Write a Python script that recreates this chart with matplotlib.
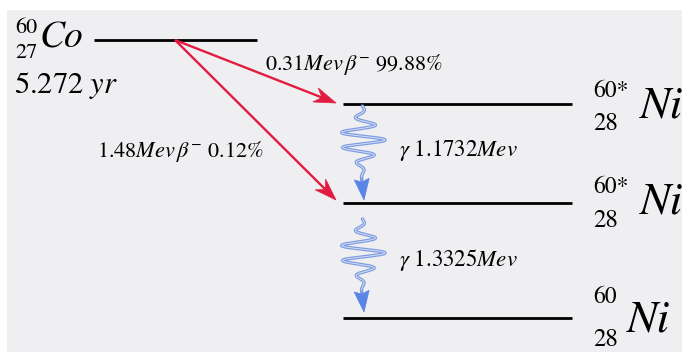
import numpy as np
import matplotlib
matplotlib.use("Agg")
import matplotlib.pyplot as plt
from matplotlib.patches import Rectangle, Polygon

plt.rcParams["font.family"] = ["STIXGeneral", "DejaVu Serif"]
plt.rcParams["mathtext.fontset"] = "stix"

# Decay data for Co-60
parent = "Co"
parent_A, parent_Z = "60", "27"
half_life_yr = 5.272
daughter = "Ni"
daughter_A = ["60*", "60*", "60"]
daughter_Z = "28"
beta_energy_mev = [0.31, 1.48]
beta_branch_pct = [99.88, 0.12]
gamma_energy_mev = [1.1732, 1.3325]

RED = "#e21c40"
BLUE_LINE = "#7b9be2"
BLUE_HEAD = "#5a85e6"

W, H = 689, 356
fig = plt.figure(figsize=(W / 100, H / 100), dpi=100, facecolor="white")
ax = fig.add_axes([0, 0, 1, 1])
ax.set_xlim(0, W)
ax.set_ylim(H, 0)
ax.axis("off")

ax.add_patch(Rectangle((7, 10), 675, 342, facecolor="#efeef0", edgecolor="none", zorder=0))


def arrow(p0, p1, color, lw, head_color=None, length=20, half_w=7, notch=6, z=4):
    """Straight shaft from p0 to p1 with a notched, filled head at p1."""
    head_color = head_color or color
    p0, p1 = np.asarray(p0, float), np.asarray(p1, float)
    u = (p1 - p0) / np.hypot(*(p1 - p0))
    n = np.array([-u[1], u[0]])
    base = p1 - length * u
    notch_pt = p1 - (length - notch) * u
    ax.plot([p0[0], notch_pt[0]], [p0[1], notch_pt[1]], color=color, lw=lw,
            solid_capstyle="butt", zorder=z)
    ax.add_patch(Polygon([p1, base + half_w * n, notch_pt, base - half_w * n],
                         closed=True, facecolor=head_color, edgecolor=head_color,
                         lw=0.5, zorder=z + 1))


# energy levels (drawing coordinates)
parent_level = (94, 257, 40)
daughter_levels_y = [104, 203, 318]
dl_x0, dl_x1 = 343, 572

ax.plot(parent_level[:2], [parent_level[2]] * 2, color="black", lw=2.0, solid_capstyle="butt")
for y in daughter_levels_y:
    ax.plot([dl_x0, dl_x1], [y, y], color="black", lw=2.0, solid_capstyle="butt")

# parent labels
ax.text(40, 48, parent, fontsize=27, style="italic", va="baseline", ha="left")
ax.text(15, 33, parent_A, fontsize=16, va="baseline", ha="left")
ax.text(15, 58, parent_Z, fontsize=16, va="baseline", ha="left")
ax.text(14, 93, r"$\mathrm{%.3f}\ \mathit{yr}$" % half_life_yr, fontsize=22,
        va="baseline", ha="left")

# daughter labels
a_base = [97, 193, 303]
z_base = [130, 227, 346]
n_base = [118, 213, 332]
n_x = [640, 640, 627]
for i in range(3):
    ax.text(593, a_base[i], daughter_A[i], fontsize=17, va="baseline", ha="left")
    ax.text(593, z_base[i], daughter_Z, fontsize=18, va="baseline", ha="left")
    ax.text(n_x[i], n_base[i], daughter, fontsize=33, style="italic",
            va="baseline", ha="left")

# beta transitions
start = (175, 40)
beta_targets = [(336, 103), (336, 200)]
for tgt in beta_targets:
    arrow(start, tgt, RED, 1.7, length=22, half_w=7.5, notch=7)


def beta_label(e, p):
    return r"$\mathrm{%.2f}\mathit{Mev}\,\beta^{-}\ \mathrm{%.2f\%%}$" % (e, p)


ax.text(265, 70, beta_label(beta_energy_mev[0], beta_branch_pct[0]), fontsize=16,
        va="baseline", ha="left")
ax.text(97, 157, beta_label(beta_energy_mev[1], beta_branch_pct[1]), fontsize=16,
        va="baseline", ha="left")


# gamma transitions: wave packets with arrowheads
def gamma_wave(y_top, y_tail, y_tip, xc=362, amp=23, cycles=4.6):
    t = np.linspace(0, 1, 600)
    env = np.exp(-((t - 0.47) / 0.28) ** 2)
    x = xc + amp * env * np.sin(2 * np.pi * cycles * t + 0.3)
    y = y_top + t * (y_tail - y_top)
    ax.plot(x, y, color=BLUE_LINE, lw=2.4, solid_capstyle="round", zorder=3)
    ax.plot(x, y, color="#d6def4", lw=0.7, zorder=4)
    arrow((x[-1], y_tail), (364, y_tip), BLUE_LINE, 2.4, head_color=BLUE_HEAD,
          length=21, half_w=7.5, notch=3, z=3)


gamma_wave(106, 177, 200)
gamma_wave(219, 290, 312)

ax.text(399, 156, r"$\gamma\ \mathrm{%.4f}\mathit{Mev}$" % gamma_energy_mev[0], fontsize=16.5,
        va="baseline", ha="left")
ax.text(399, 266, r"$\gamma\ \mathrm{%.4f}\mathit{Mev}$" % gamma_energy_mev[1], fontsize=16.5,
        va="baseline", ha="left")

fig.savefig("out.png", dpi=100, facecolor=fig.get_facecolor())
